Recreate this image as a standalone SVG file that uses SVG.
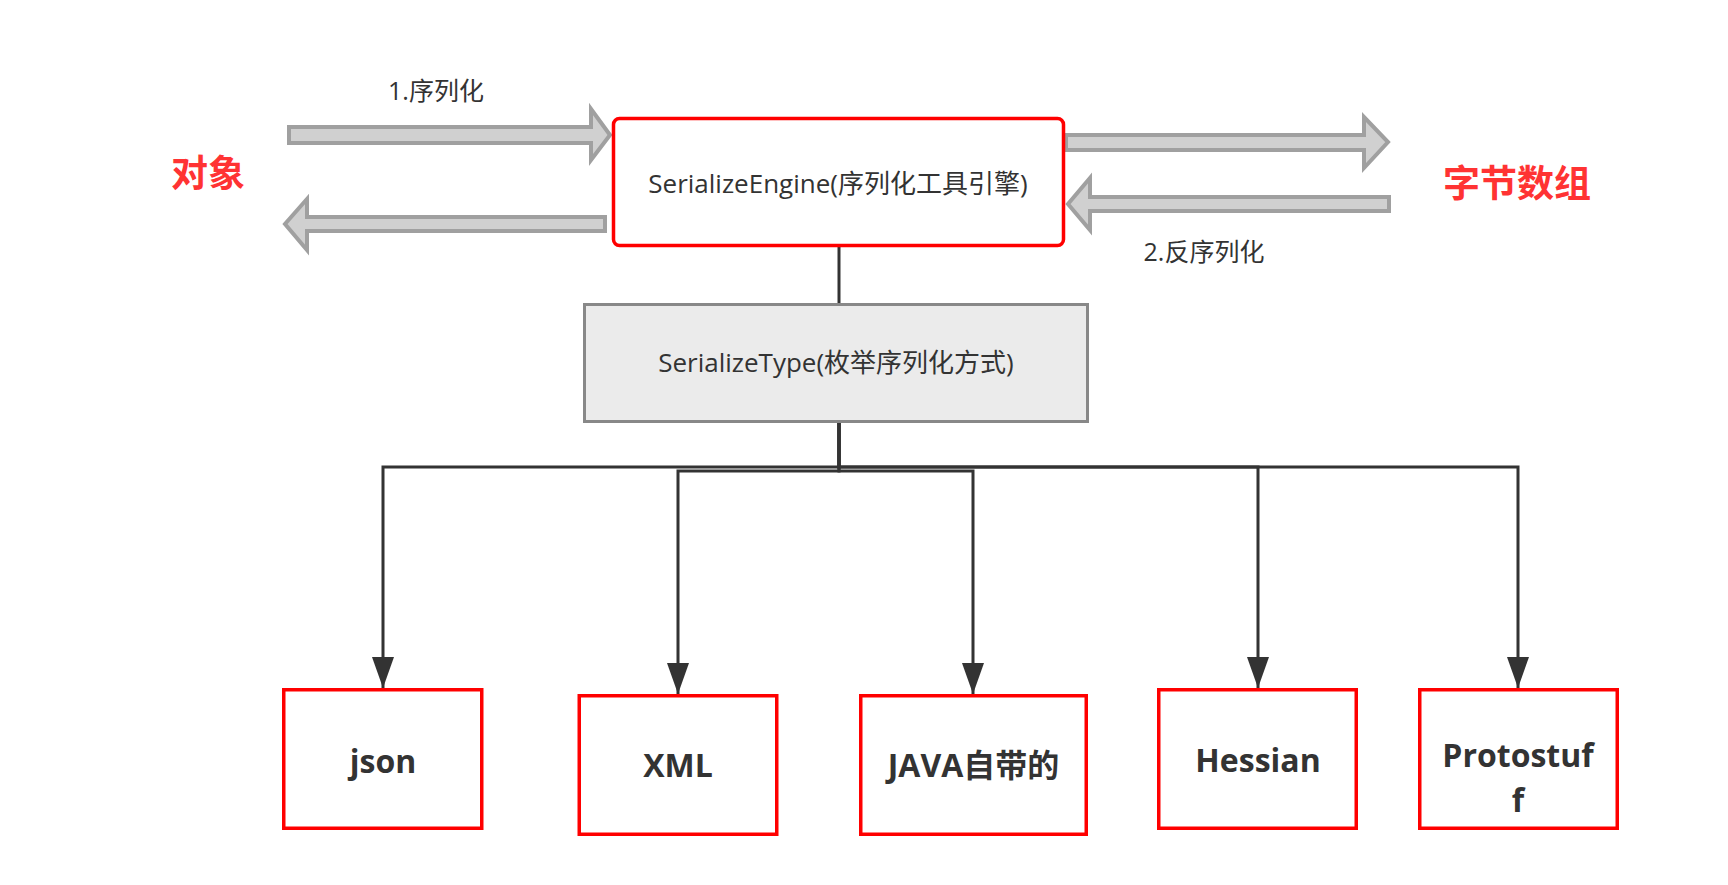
<svg xmlns="http://www.w3.org/2000/svg" width="1728" height="885" viewBox="0 0 1728 885">
<style>
text{font-family:"Open Sans","Noto Sans CJK SC",sans-serif;fill:#333}
.lbl{font-size:25px}
.big{font-size:37px;font-weight:bold;fill:#ff3333}
.mid{font-size:26px}
.bold{font-size:32px;font-weight:bold}
.blk{fill:#d0d0d0;stroke:#a0a0a0;stroke-width:4;stroke-linejoin:miter}
.red{fill:#fff;stroke:#ff0000;stroke-width:3.5}
.con{fill:none;stroke:#333;stroke-width:3}
</style>
<defs>
<marker id="ah" markerUnits="userSpaceOnUse" markerWidth="31" markerHeight="22" viewBox="0 0 31 22" refX="31" refY="11" orient="auto">
<path d="M0 0 L31 11 L0 22 Z" fill="#333"/>
</marker>
</defs>
<rect width="1728" height="885" fill="#fff"/>

<g id="flow-arrows">
<polygon class="blk" points="289,127 591,127 591,109 610,135 591,160 591,143 289,143"/>
<polygon class="blk" points="605,217 307,217 307,199 285,224 307,250 307,231 605,231"/>
<polygon class="blk" points="1066,135 1364,135 1364,117 1388,142 1364,168 1364,150 1066,150"/>
<polygon class="blk" points="1389,197 1090,197 1090,178 1068,204 1090,230 1090,211 1389,211"/>
</g>

<g id="labels">
<text class="lbl" x="436" y="100" text-anchor="middle">1.序列化</text>
<text class="lbl" x="1204" y="261" text-anchor="middle">2.反序列化</text>
<text class="big" x="208" y="187" text-anchor="middle">对象</text>
<text class="big" x="1517" y="197" text-anchor="middle">字节数组</text>
</g>

<g id="connectors">
<path class="con" d="M839 247 V303"/>
<path class="con" d="M839 423 V467 H383 V688" marker-end="url(#ah)"/>
<path class="con" d="M839 423 V471 H678 V694" marker-end="url(#ah)"/>
<path class="con" d="M839 423 V471 H973 V694" marker-end="url(#ah)"/>
<path class="con" d="M839 423 V467 H1258 V688" marker-end="url(#ah)"/>
<path class="con" d="M839 423 V467 H1518 V688" marker-end="url(#ah)"/>
</g>

<g id="engine">
<rect class="red" x="613.5" y="118.5" width="450" height="127" rx="6"/>
<text class="mid" x="838" y="193" text-anchor="middle">SerializeEngine(序列化工具引擎)</text>
</g>

<g id="type">
<rect x="584.5" y="304.5" width="503" height="117" fill="#ebebeb" stroke="#888" stroke-width="3"/>
<text class="mid" x="836" y="372" text-anchor="middle">SerializeType(枚举序列化方式)</text>
</g>

<g id="json">
<rect class="red" x="283.75" y="689.75" width="198" height="138.5"/>
<text class="bold" x="383" y="773" text-anchor="middle">json</text>
</g>
<g id="xml">
<rect class="red" x="579.25" y="695.75" width="197.5" height="138.5"/>
<text class="bold" x="678" y="777" text-anchor="middle">XML</text>
</g>
<g id="java">
<rect class="red" x="860.75" y="695.75" width="225.5" height="138.5"/>
<text class="bold" x="973.5" y="777" text-anchor="middle">JAVA自带的</text>
</g>
<g id="hessian">
<rect class="red" x="1158.75" y="689.75" width="197.5" height="138.5"/>
<text class="bold" x="1258" y="772" text-anchor="middle">Hessian</text>
</g>
<g id="protostuff">
<rect class="red" x="1419.75" y="689.75" width="197.5" height="138.5"/>
<text class="bold" text-anchor="middle"><tspan x="1518" y="767">Protostuf</tspan><tspan x="1518" y="812">f</tspan></text>
</g>
</svg>
